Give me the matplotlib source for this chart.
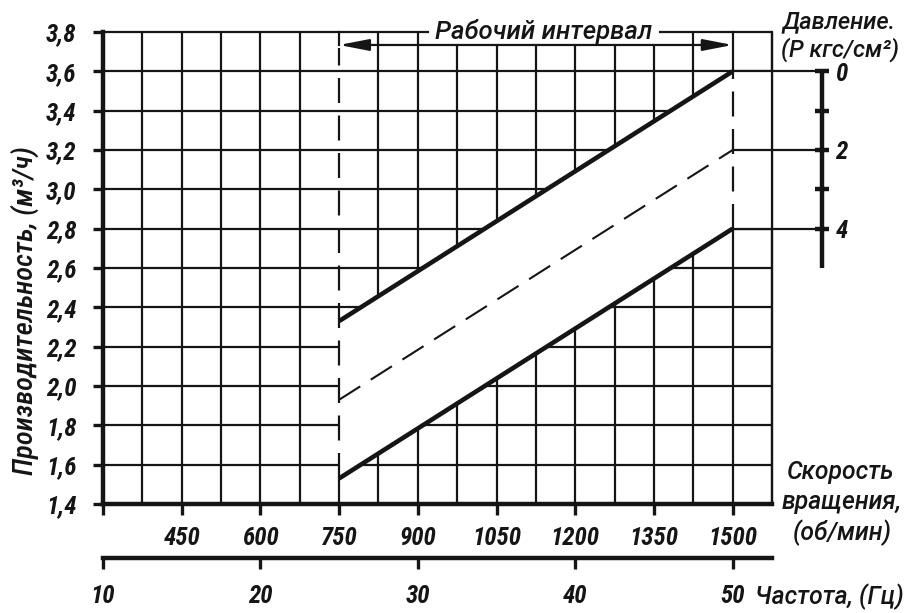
import matplotlib
matplotlib.use('Agg')
import matplotlib.pyplot as plt
import numpy as np
from matplotlib.patches import Rectangle

plt.rcParams['lines.scale_dashes'] = False

# ---------------- data ----------------
speed_rpm = [750, 1500]              # working interval, rpm
upper_line = [2.33, 3.60]            # productivity at P = 0
middle_line = [1.93, 3.20]           # productivity at P = 2 (dashed)
lower_line = [1.53, 2.80]            # productivity at P = 4

rpm_ticks = [300, 450, 600, 750, 900, 1050, 1200, 1350, 1500]
rpm_labels = ['', '450', '600', '750', '900', '1050', '1200', '1350', '1500']
freq_ticks = [10, 20, 30, 40, 50]
freq_labels = ['10', '20', '30', '40', '50']
prod_ticks = [1.4, 1.6, 1.8, 2.0, 2.2, 2.4, 2.6, 2.8, 3.0, 3.2, 3.4, 3.6, 3.8]
prod_labels = ['1,4', '1,6', '1,8', '2,0', '2,2', '2,4', '2,6', '2,8',
               '3,0', '3,2', '3,4', '3,6', '3,8']
pressure_ticks = [0, 1, 2, 3, 4]
pressure_labels = [0, 2, 4]
pressure_axis_end = 5

grid_x = list(range(375, 1576, 75))
grid_y = [1.6, 1.8, 2.0, 2.2, 2.4, 2.6, 2.8, 3.0, 3.2, 3.4, 3.6, 3.8]

TICKFONT = ['Roboto Condensed', 'Liberation Sans', 'DejaVu Sans']
TICKSIZE = 18
LABFONT = ['Roboto', 'Liberation Sans', 'DejaVu Sans']
K = '#151515'

W, H = 915, 613
fig = plt.figure(figsize=(W / 100, H / 100), dpi=100)


def fx(px):
    return px / W


def fy(py):
    return 1 - py / H


ax = fig.add_axes([fx(103), fy(504), fx(772) - fx(103), fy(32) - fy(504)])
ax.set_xlim(300, 1575)
ax.set_ylim(1.4, 3.8)
ax.set_facecolor('white')

GLW = 1.6
# grid verticals
for x in grid_x:
    if x in (750, 1500):
        continue
    ax.plot([x, x], [1.4, 3.8], color=K, lw=GLW, zorder=1, clip_on=False,
            solid_capstyle='butt')
# grid horizontals
for y in grid_y:
    ax.plot([300, 1575], [y, y], color=K, lw=GLW, zorder=1, clip_on=False,
            solid_capstyle='butt')

# white band (no grid inside working band)
ax.fill_between(speed_rpm, lower_line, upper_line, color='white', lw=0, zorder=2)
ax.add_patch(Rectangle((1500, lower_line[1]), 75, upper_line[1] - lower_line[1],
                       fc='white', ec='none', zorder=2))
# white box behind the top label
ax.add_patch(Rectangle((921, 3.734), 438, 0.12, fc='white', ec='none',
                       zorder=2, clip_on=False))

# right frame
ax.plot([1575, 1575], [1.4, 3.8], color=K, lw=GLW, zorder=3, clip_on=False)

# vertical at 750
ax.plot([750, 750], [1.4, lower_line[0]], color=K, lw=GLW, zorder=3)
ln, = ax.plot([750, 750], [lower_line[0], 3.72], color=K, lw=GLW, zorder=3)
ln.set_dashes((18, 9))
ax.plot([750, 750], [3.734, 3.8], color=K, lw=GLW, zorder=3, clip_on=False)
# vertical at 1500
ax.plot([1500, 1500], [1.4, lower_line[1]], color=K, lw=GLW, zorder=3)
ln, = ax.plot([1500, 1500], [lower_line[1], upper_line[1]], color=K, lw=GLW, zorder=3)
ln.set_dashes((18, 9))
ax.plot([1500, 1500], [upper_line[1], 3.8], color=K, lw=GLW, zorder=3, clip_on=False)

# pressure axis and its horizontal guides
PX = 1670
for p in pressure_labels:
    y = upper_line[1] - 0.2 * p
    ax.plot([1500, PX], [y, y], color=K, lw=GLW, zorder=3, clip_on=False)
ax.plot([PX, PX], [upper_line[1], upper_line[1] - 0.2 * pressure_axis_end],
        color=K, lw=3.2, zorder=3, clip_on=False, solid_capstyle='butt')
for p in pressure_ticks:
    y = upper_line[1] - 0.2 * p
    ax.plot([PX - 14, PX + 14], [y, y], color=K, lw=3.2, zorder=3, clip_on=False,
            solid_capstyle='butt')
for p in pressure_labels:
    y = upper_line[1] - 0.2 * p
    ax.text(PX + 26, y - 0.012, str(p), ha='left', va='center', fontsize=TICKSIZE,
            family=TICKFONT, weight='bold', style='italic', color=K, clip_on=False)

# characteristic lines
ax.plot(speed_rpm, upper_line, color=K, lw=3.3, zorder=4, solid_capstyle='butt')
ax.plot(speed_rpm, lower_line, color=K, lw=3.3, zorder=4, solid_capstyle='butt')
ln, = ax.plot(speed_rpm, middle_line, color=K, lw=1.5, zorder=4)
ln.set_dashes((18, 9))

# working interval arrow + label
ax.annotate('', xy=(750, 3.734), xytext=(1500, 3.734),
            arrowprops=dict(arrowstyle='<|-|>,head_length=1.8,head_width=0.35',
                            mutation_scale=10, lw=1.6, color=K,
                            shrinkA=0, shrinkB=0),
            annotation_clip=False, zorder=5)
ax.text(1139, 3.764, 'Рабочий интервал', ha='center', va='baseline', fontsize=18.5,
        family=LABFONT, style='italic', weight='medium', color=K, zorder=6,
        clip_on=False)

# spines & ticks
for s in ('top', 'right'):
    ax.spines[s].set_visible(False)
for s in ('left', 'bottom'):
    ax.spines[s].set_linewidth(3.2)
    ax.spines[s].set_color(K)
    ax.spines[s].set_zorder(5)

tkw = dict(fontsize=TICKSIZE, family=TICKFONT, weight='bold', style='italic', color=K)
ax.set_yticks(prod_ticks, prod_labels, **tkw)
ax.set_xticks(rpm_ticks, rpm_labels, **tkw)
ax.tick_params(axis='y', direction='out', length=7, width=2.4, pad=12, color=K)
ax.tick_params(axis='x', direction='out', length=8, width=2.4, pad=8, color=K)

sec = ax.secondary_xaxis(-(558 - 504) / 472, functions=(lambda r: r / 30.0,
                                                       lambda f: f * 30.0))
sec.set_xticks(freq_ticks, freq_labels, **tkw)
sec.spines['bottom'].set_linewidth(3.2)
sec.spines['bottom'].set_color(K)
sec.tick_params(axis='x', direction='out', length=8, width=2.4, pad=11, color=K)

# labels
lkw = dict(family=LABFONT, style='italic', weight='medium', color=K, fontsize=17)
skw = dict(lkw, fontsize=17.8)
fig.text(fx(25), fy(311), 'Производительность, (м³/ч)', rotation=90,
         ha='center', va='center', family=TICKFONT, style='italic', color=K,
         fontsize=20.5, weight='medium')
fig.text(fx(839), fy(22), 'Давление.', ha='center', va='center', **lkw)
fig.text(fx(840), fy(50), '(Р кгс/см²)', ha='center', va='center', **lkw)
fig.text(fx(841), fy(472), 'Скорость', ha='center', va='center', **skw)
fig.text(fx(842), fy(502), 'вращения,', ha='center', va='center', **skw)
fig.text(fx(842), fy(533), '(об/мин)', ha='center', va='center', **skw)
fig.text(fx(755), fy(597), 'Частота, (Гц)', ha='left', va='center', **skw)

fig.savefig('out.png', dpi=100, facecolor='white')
